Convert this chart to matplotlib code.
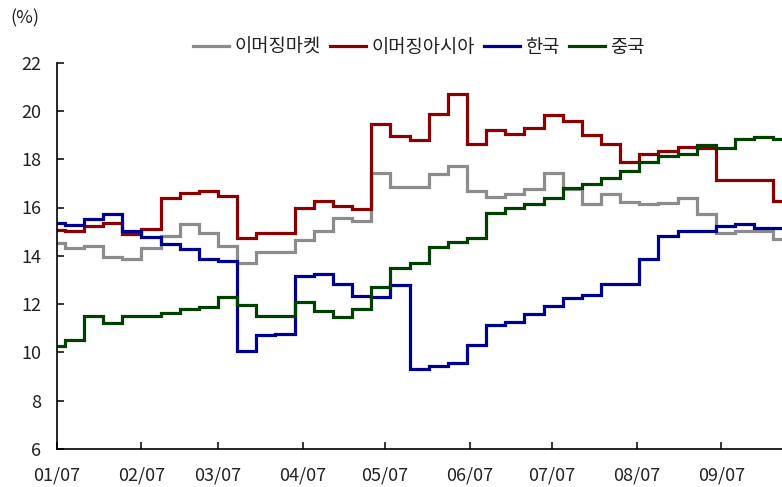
import matplotlib
matplotlib.use("Agg")
import matplotlib.pyplot as plt
import matplotlib.dates as mdates
import pandas as pd
import numpy as np

plt.rcParams['font.family'] = ['Noto Sans CJK KR', 'DejaVu Sans']

# ---- data: weekly values (first value from start date, then weekly updates) ----
start_date = pd.Timestamp('2009-01-07')
update_dates = pd.date_range('2009-01-10', periods=38, freq='7D')
end_date = pd.Timestamp('2009-01-07') + pd.Timedelta(days=265.2)

em = [14.55, 14.31, 14.42, 13.96, 13.87, 14.34, 14.82, 15.32, 14.96, 14.42,
      13.71, 14.16, 14.16, 14.65, 15.03, 15.58, 15.45, 17.42, 16.84, 16.84,
      17.37, 17.72, 16.68, 16.45, 16.56, 16.75, 17.44, 16.78, 16.13, 16.55,
      16.22, 16.15, 16.20, 16.38, 15.73, 14.96, 15.02, 15.02, 14.70]
ea = [15.07, 15.03, 15.23, 15.37, 14.89, 15.10, 16.41, 16.61, 16.67, 16.49,
      14.75, 14.93, 14.93, 15.97, 16.27, 16.08, 15.94, 19.46, 18.96, 18.80,
      19.86, 20.69, 18.62, 19.21, 19.04, 19.31, 19.83, 19.58, 19.00, 18.63,
      17.88, 18.22, 18.34, 18.52, 18.45, 17.14, 17.14, 17.14, 16.28]
kr = [15.37, 15.28, 15.51, 15.72, 15.03, 14.77, 14.48, 14.29, 13.85, 13.78,
      10.07, 10.72, 10.75, 13.18, 13.23, 12.82, 12.35, 12.31, 12.79, 9.31,
      9.44, 9.57, 10.32, 11.12, 11.27, 11.58, 11.92, 12.27, 12.38, 12.82,
      12.82, 13.87, 14.83, 15.04, 15.04, 15.23, 15.30, 15.16, 15.16]
cn = [10.27, 10.51, 11.51, 11.20, 11.51, 11.51, 11.62, 11.81, 11.87, 12.31,
      11.95, 11.51, 11.51, 12.09, 11.71, 11.48, 11.80, 12.69, 13.51, 13.69,
      14.38, 14.58, 14.75, 15.78, 15.99, 16.13, 16.38, 16.80, 16.97, 17.21,
      17.52, 17.90, 18.13, 18.22, 18.58, 18.46, 18.82, 18.93, 18.85]

labels = ['이머징마켓', '이머징아시아', '한국', '중국']
colors = ['#8c8c8c', '#8b0000', '#000090', '#004000']
tick_dates = pd.date_range('2009-01-01', periods=9, freq='MS') + pd.Timedelta(days=6)
y_ticks = [6, 8, 10, 12, 14, 16, 18, 20, 22]

# ---- figure ----
W, H = 782, 487
fig = plt.figure(figsize=(W / 100, H / 100), dpi=100)
left, right, top, bottom = 56.7, 782, 62.6, 449
ax = fig.add_axes([left / W, 1 - bottom / H, (right - left) / W, (bottom - top) / H])

x = list(pd.DatetimeIndex([start_date]).append(update_dates)) + [end_date]
for vals, lab, col in zip([em, ea, kr, cn], labels, colors):
    y = list(vals) + [vals[-1]]
    ax.plot(x, y, drawstyle='steps-post', color=col, lw=2.3, label=lab,
            solid_joinstyle='miter')

ax.set_xlim(start_date, end_date)
ax.set_ylim(6, 22)
ax.set_yticks(y_ticks)
ax.set_xticks(tick_dates)
ax.xaxis.set_major_formatter(mdates.DateFormatter('%m/%d'))

for s in ['top', 'right']:
    ax.spines[s].set_visible(False)
for s in ['left', 'bottom']:
    ax.spines[s].set_color('#000000')
    ax.spines[s].set_linewidth(1.2)

ax.tick_params(axis='both', direction='in', length=5, width=1.1, colors='#000000',
               labelcolor='#222222', labelsize=13)
ax.tick_params(axis='y', pad=11)
ax.tick_params(axis='x', pad=12.5)

fig.text(10 / W, 1 - 18 / H, '(%)', fontsize=13, color='#222222', va='center', ha='left')

leg = fig.legend(loc='center', bbox_to_anchor=(419 / W, 1 - 47 / H), ncol=4, frameon=False,
                 fontsize=13.5, handlelength=1.9, handletextpad=0.3, columnspacing=0.5,
                 borderaxespad=0)
for t in leg.get_texts():
    t.set_color('#222222')

fig.savefig('out.png', dpi=100)
